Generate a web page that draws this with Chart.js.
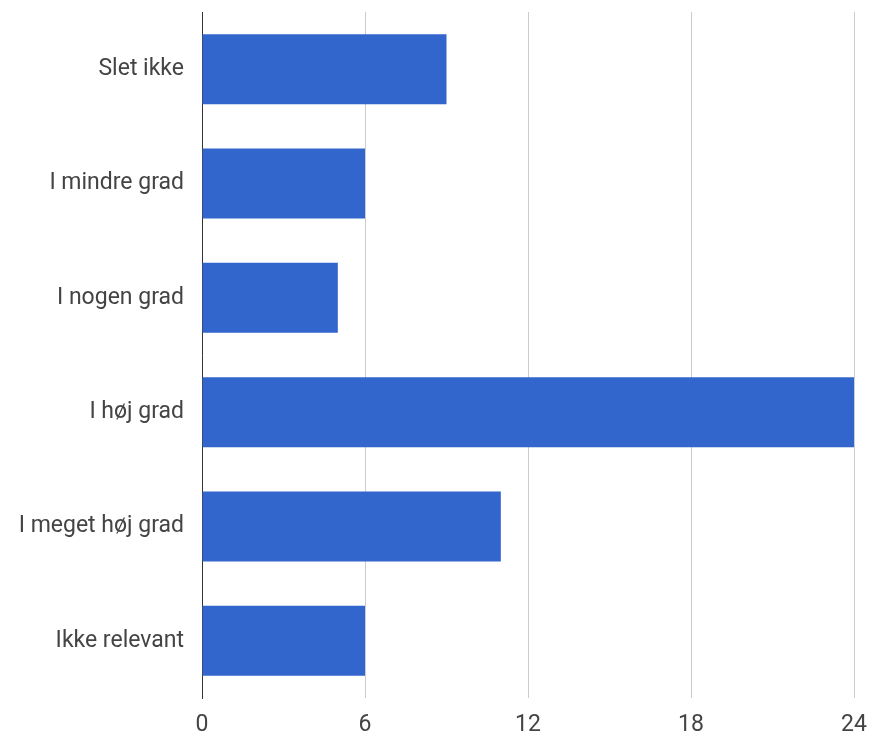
<!DOCTYPE html>
<html>
<head>
<meta charset="utf-8">
<script src="https://cdn.jsdelivr.net/npm/chart.js@4"></script>
<style>
html,body{margin:0;padding:0;background:#fff;}
#wrap{width:871px;height:734px;position:relative;}
</style>
</head>
<body>
<div id="wrap"><canvas id="c" width="871" height="734"></canvas></div>
<script>
const categories = ["Slet ikke", "I mindre grad", "I nogen grad", "I høj grad", "I meget høj grad", "Ikke relevant"];
const values = [9, 6, 5, 24, 11, 6];
const xTicks = [0, 6, 12, 18, 24];

const font = { family: "Roboto, Arial, sans-serif", size: 23 };

new Chart(document.getElementById('c'), {
  type: 'bar',
  data: {
    labels: categories,
    datasets: [{
      data: values,
      backgroundColor: '#3366cc',
      borderWidth: 0,
      barPercentage: 0.612,
      categoryPercentage: 1.0
    }]
  },
  options: {
    indexAxis: 'y',
    responsive: false,
    animation: false,
    devicePixelRatio: 1,
    layout: { padding: { top: 12, right: 17, left: 0, bottom: 0 } },
    plugins: { legend: { display: false }, tooltip: { enabled: false } },
    scales: {
      x: {
        min: 0, max: 24,
        afterBuildTicks: (s) => { s.ticks = xTicks.map(v => ({ value: v })); },
        afterFit: (s) => { s.height = 36; s.paddingLeft = 0; s.paddingRight = 0; },
        grid: { color: '#cccccc', lineWidth: 1, drawTicks: false },
        border: { display: false },
        ticks: { font: font, color: '#444444', padding: 13 }
      },
      y: {
        afterFit: (s) => { s.width = 202; s.paddingTop = 0; s.paddingBottom = 0; },
        grid: { display: false, drawTicks: false },
        border: { display: true, color: '#333333', width: 1 },
        ticks: { font: font, color: '#444444', padding: 18 }
      }
    }
  }
});
</script>
</body>
</html>
